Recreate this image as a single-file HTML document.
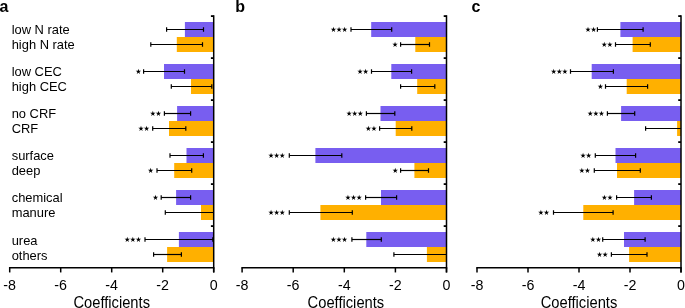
<!DOCTYPE html>
<html><head><meta charset="utf-8"><style>
html,body{margin:0;padding:0;background:#fff;}
svg{display:block;font-family:"Liberation Sans", sans-serif;}
svg{will-change:transform;}
</style></head><body>
<svg width="685" height="308" viewBox="0 0 685 308">
<rect width="685" height="308" fill="#fff"/>
<rect x="184.90" y="22.00" width="28.80" height="15.0" fill="#785EF0"/>
<rect x="176.80" y="37.00" width="36.90" height="15.0" fill="#FFB000"/>
<rect x="164.00" y="64.00" width="49.70" height="15.0" fill="#785EF0"/>
<rect x="191.00" y="79.00" width="22.70" height="15.0" fill="#FFB000"/>
<rect x="177.10" y="106.00" width="36.60" height="15.0" fill="#785EF0"/>
<rect x="169.00" y="121.00" width="44.70" height="15.0" fill="#FFB000"/>
<rect x="186.50" y="148.00" width="27.20" height="15.0" fill="#785EF0"/>
<rect x="174.20" y="163.00" width="39.50" height="15.0" fill="#FFB000"/>
<rect x="176.10" y="190.00" width="37.60" height="15.0" fill="#785EF0"/>
<rect x="201.00" y="205.00" width="12.70" height="15.0" fill="#FFB000"/>
<rect x="178.90" y="232.00" width="34.80" height="15.0" fill="#785EF0"/>
<rect x="167.10" y="247.00" width="46.60" height="15.0" fill="#FFB000"/>
<line x1="166.60" y1="29.50" x2="203.50" y2="29.50" stroke="#000" stroke-width="1.2"/>
<line x1="166.60" y1="27.25" x2="166.60" y2="31.75" stroke="#000" stroke-width="1.2"/>
<line x1="203.50" y1="27.25" x2="203.50" y2="31.75" stroke="#000" stroke-width="1.2"/>
<line x1="150.80" y1="44.50" x2="202.50" y2="44.50" stroke="#000" stroke-width="1.2"/>
<line x1="150.80" y1="42.25" x2="150.80" y2="46.75" stroke="#000" stroke-width="1.2"/>
<line x1="202.50" y1="42.25" x2="202.50" y2="46.75" stroke="#000" stroke-width="1.2"/>
<line x1="143.60" y1="71.50" x2="184.50" y2="71.50" stroke="#000" stroke-width="1.2"/>
<line x1="143.60" y1="69.25" x2="143.60" y2="73.75" stroke="#000" stroke-width="1.2"/>
<line x1="184.50" y1="69.25" x2="184.50" y2="73.75" stroke="#000" stroke-width="1.2"/>
<polygon points="138.40,68.75 139.02,70.75 141.11,70.72 139.40,71.92 140.08,73.91 138.40,72.65 136.72,73.91 137.40,71.92 135.69,70.72 137.78,70.75"/>
<line x1="171.30" y1="86.50" x2="211.80" y2="86.50" stroke="#000" stroke-width="1.2"/>
<line x1="171.30" y1="84.25" x2="171.30" y2="88.75" stroke="#000" stroke-width="1.2"/>
<line x1="211.80" y1="84.25" x2="211.80" y2="88.75" stroke="#000" stroke-width="1.2"/>
<line x1="164.40" y1="113.50" x2="190.60" y2="113.50" stroke="#000" stroke-width="1.2"/>
<line x1="164.40" y1="111.25" x2="164.40" y2="115.75" stroke="#000" stroke-width="1.2"/>
<line x1="190.60" y1="111.25" x2="190.60" y2="115.75" stroke="#000" stroke-width="1.2"/>
<polygon points="152.85,110.75 153.47,112.75 155.56,112.72 153.85,113.92 154.53,115.91 152.85,114.65 151.17,115.91 151.85,113.92 150.14,112.72 152.23,112.75"/>
<polygon points="158.45,110.75 159.07,112.75 161.16,112.72 159.45,113.92 160.13,115.91 158.45,114.65 156.77,115.91 157.45,113.92 155.74,112.72 157.83,112.75"/>
<line x1="152.70" y1="128.50" x2="185.80" y2="128.50" stroke="#000" stroke-width="1.2"/>
<line x1="152.70" y1="126.25" x2="152.70" y2="130.75" stroke="#000" stroke-width="1.2"/>
<line x1="185.80" y1="126.25" x2="185.80" y2="130.75" stroke="#000" stroke-width="1.2"/>
<polygon points="141.00,125.75 141.62,127.75 143.71,127.72 142.00,128.92 142.68,130.91 141.00,129.65 139.32,130.91 140.00,128.92 138.29,127.72 140.38,127.75"/>
<polygon points="146.60,125.75 147.22,127.75 149.31,127.72 147.60,128.92 148.28,130.91 146.60,129.65 144.92,130.91 145.60,128.92 143.89,127.72 145.98,127.75"/>
<line x1="170.00" y1="155.50" x2="203.40" y2="155.50" stroke="#000" stroke-width="1.2"/>
<line x1="170.00" y1="153.25" x2="170.00" y2="157.75" stroke="#000" stroke-width="1.2"/>
<line x1="203.40" y1="153.25" x2="203.40" y2="157.75" stroke="#000" stroke-width="1.2"/>
<line x1="157.00" y1="170.50" x2="191.70" y2="170.50" stroke="#000" stroke-width="1.2"/>
<line x1="157.00" y1="168.25" x2="157.00" y2="172.75" stroke="#000" stroke-width="1.2"/>
<line x1="191.70" y1="168.25" x2="191.70" y2="172.75" stroke="#000" stroke-width="1.2"/>
<polygon points="150.65,167.75 151.27,169.75 153.36,169.72 151.65,170.92 152.33,172.91 150.65,171.65 148.97,172.91 149.65,170.92 147.94,169.72 150.03,169.75"/>
<line x1="161.20" y1="197.50" x2="190.60" y2="197.50" stroke="#000" stroke-width="1.2"/>
<line x1="161.20" y1="195.25" x2="161.20" y2="199.75" stroke="#000" stroke-width="1.2"/>
<line x1="190.60" y1="195.25" x2="190.60" y2="199.75" stroke="#000" stroke-width="1.2"/>
<polygon points="155.50,194.75 156.12,196.75 158.21,196.72 156.50,197.92 157.18,199.91 155.50,198.65 153.82,199.91 154.50,197.92 152.79,196.72 154.88,196.75"/>
<line x1="165.30" y1="212.50" x2="213.70" y2="212.50" stroke="#000" stroke-width="1.2"/>
<line x1="165.30" y1="210.25" x2="165.30" y2="214.75" stroke="#000" stroke-width="1.2"/>
<line x1="145.00" y1="239.50" x2="212.80" y2="239.50" stroke="#000" stroke-width="1.2"/>
<line x1="145.00" y1="237.25" x2="145.00" y2="241.75" stroke="#000" stroke-width="1.2"/>
<line x1="212.80" y1="237.25" x2="212.80" y2="241.75" stroke="#000" stroke-width="1.2"/>
<polygon points="127.25,236.75 127.87,238.75 129.96,238.72 128.25,239.92 128.93,241.91 127.25,240.65 125.57,241.91 126.25,239.92 124.54,238.72 126.63,238.75"/>
<polygon points="132.85,236.75 133.47,238.75 135.56,238.72 133.85,239.92 134.53,241.91 132.85,240.65 131.17,241.91 131.85,239.92 130.14,238.72 132.23,238.75"/>
<polygon points="138.45,236.75 139.07,238.75 141.16,238.72 139.45,239.92 140.13,241.91 138.45,240.65 136.77,241.91 137.45,239.92 135.74,238.72 137.83,238.75"/>
<line x1="153.60" y1="254.50" x2="181.40" y2="254.50" stroke="#000" stroke-width="1.2"/>
<line x1="153.60" y1="252.25" x2="153.60" y2="256.75" stroke="#000" stroke-width="1.2"/>
<line x1="181.40" y1="252.25" x2="181.40" y2="256.75" stroke="#000" stroke-width="1.2"/>
<line x1="213.70" y1="15.20" x2="213.70" y2="272.45" stroke="#000" stroke-width="1.5"/>
<line x1="210.90" y1="16.10" x2="213.70" y2="16.10" stroke="#000" stroke-width="1.8"/>
<line x1="210.90" y1="58.10" x2="213.70" y2="58.10" stroke="#000" stroke-width="1.8"/>
<line x1="210.90" y1="100.10" x2="213.70" y2="100.10" stroke="#000" stroke-width="1.8"/>
<line x1="210.90" y1="142.10" x2="213.70" y2="142.10" stroke="#000" stroke-width="1.8"/>
<line x1="210.90" y1="184.10" x2="213.70" y2="184.10" stroke="#000" stroke-width="1.8"/>
<line x1="210.90" y1="226.10" x2="213.70" y2="226.10" stroke="#000" stroke-width="1.8"/>
<line x1="8.95" y1="267.85" x2="214.45" y2="267.85" stroke="#000" stroke-width="1.5"/>
<line x1="9.70" y1="267.85" x2="9.70" y2="272.45" stroke="#000" stroke-width="1.5"/>
<text transform="translate(9.70,290.35) scale(0.95,1.03)" font-size="15" text-anchor="middle">-8</text>
<line x1="60.70" y1="267.85" x2="60.70" y2="272.45" stroke="#000" stroke-width="1.5"/>
<text transform="translate(60.70,290.35) scale(0.95,1.03)" font-size="15" text-anchor="middle">-6</text>
<line x1="111.70" y1="267.85" x2="111.70" y2="272.45" stroke="#000" stroke-width="1.5"/>
<text transform="translate(111.70,290.35) scale(0.95,1.03)" font-size="15" text-anchor="middle">-4</text>
<line x1="162.70" y1="267.85" x2="162.70" y2="272.45" stroke="#000" stroke-width="1.5"/>
<text transform="translate(162.70,290.35) scale(0.95,1.03)" font-size="15" text-anchor="middle">-2</text>
<line x1="213.70" y1="267.85" x2="213.70" y2="272.45" stroke="#000" stroke-width="1.5"/>
<text transform="translate(213.70,290.35) scale(0.95,1.03)" font-size="15" text-anchor="middle">0</text>
<text transform="translate(111.70,308.1) scale(0.92,1)" font-size="16" text-anchor="middle">Coefficients</text>
<text x="-0.50" y="12.2" font-size="16" font-weight="bold">a</text>
<rect x="371.20" y="22.00" width="75.30" height="15.0" fill="#785EF0"/>
<rect x="415.30" y="37.00" width="31.20" height="15.0" fill="#FFB000"/>
<rect x="391.30" y="64.00" width="55.20" height="15.0" fill="#785EF0"/>
<rect x="417.20" y="79.00" width="29.30" height="15.0" fill="#FFB000"/>
<rect x="380.50" y="106.00" width="66.00" height="15.0" fill="#785EF0"/>
<rect x="395.70" y="121.00" width="50.80" height="15.0" fill="#FFB000"/>
<rect x="315.40" y="148.00" width="131.10" height="15.0" fill="#785EF0"/>
<rect x="414.40" y="163.00" width="32.10" height="15.0" fill="#FFB000"/>
<rect x="381.00" y="190.00" width="65.50" height="15.0" fill="#785EF0"/>
<rect x="320.40" y="205.00" width="126.10" height="15.0" fill="#FFB000"/>
<rect x="366.30" y="232.00" width="80.20" height="15.0" fill="#785EF0"/>
<rect x="426.90" y="247.00" width="19.60" height="15.0" fill="#FFB000"/>
<line x1="351.00" y1="29.50" x2="391.70" y2="29.50" stroke="#000" stroke-width="1.2"/>
<line x1="351.00" y1="27.25" x2="351.00" y2="31.75" stroke="#000" stroke-width="1.2"/>
<line x1="391.70" y1="27.25" x2="391.70" y2="31.75" stroke="#000" stroke-width="1.2"/>
<polygon points="333.45,26.75 334.07,28.75 336.16,28.72 334.45,29.92 335.13,31.91 333.45,30.65 331.77,31.91 332.45,29.92 330.74,28.72 332.83,28.75"/>
<polygon points="339.05,26.75 339.67,28.75 341.76,28.72 340.05,29.92 340.73,31.91 339.05,30.65 337.37,31.91 338.05,29.92 336.34,28.72 338.43,28.75"/>
<polygon points="344.65,26.75 345.27,28.75 347.36,28.72 345.65,29.92 346.33,31.91 344.65,30.65 342.97,31.91 343.65,29.92 341.94,28.72 344.03,28.75"/>
<line x1="400.60" y1="44.50" x2="429.50" y2="44.50" stroke="#000" stroke-width="1.2"/>
<line x1="400.60" y1="42.25" x2="400.60" y2="46.75" stroke="#000" stroke-width="1.2"/>
<line x1="429.50" y1="42.25" x2="429.50" y2="46.75" stroke="#000" stroke-width="1.2"/>
<polygon points="395.05,41.75 395.67,43.75 397.76,43.72 396.05,44.92 396.73,46.91 395.05,45.65 393.37,46.91 394.05,44.92 392.34,43.72 394.43,43.75"/>
<line x1="371.50" y1="71.50" x2="411.60" y2="71.50" stroke="#000" stroke-width="1.2"/>
<line x1="371.50" y1="69.25" x2="371.50" y2="73.75" stroke="#000" stroke-width="1.2"/>
<line x1="411.60" y1="69.25" x2="411.60" y2="73.75" stroke="#000" stroke-width="1.2"/>
<polygon points="360.05,68.75 360.67,70.75 362.76,70.72 361.05,71.92 361.73,73.91 360.05,72.65 358.37,73.91 359.05,71.92 357.34,70.72 359.43,70.75"/>
<polygon points="365.65,68.75 366.27,70.75 368.36,70.72 366.65,71.92 367.33,73.91 365.65,72.65 363.97,73.91 364.65,71.92 362.94,70.72 365.03,70.75"/>
<line x1="400.60" y1="86.50" x2="434.80" y2="86.50" stroke="#000" stroke-width="1.2"/>
<line x1="400.60" y1="84.25" x2="400.60" y2="88.75" stroke="#000" stroke-width="1.2"/>
<line x1="434.80" y1="84.25" x2="434.80" y2="88.75" stroke="#000" stroke-width="1.2"/>
<line x1="366.40" y1="113.50" x2="394.80" y2="113.50" stroke="#000" stroke-width="1.2"/>
<line x1="366.40" y1="111.25" x2="366.40" y2="115.75" stroke="#000" stroke-width="1.2"/>
<line x1="394.80" y1="111.25" x2="394.80" y2="115.75" stroke="#000" stroke-width="1.2"/>
<polygon points="349.10,110.75 349.72,112.75 351.81,112.72 350.10,113.92 350.78,115.91 349.10,114.65 347.42,115.91 348.10,113.92 346.39,112.72 348.48,112.75"/>
<polygon points="354.70,110.75 355.32,112.75 357.41,112.72 355.70,113.92 356.38,115.91 354.70,114.65 353.02,115.91 353.70,113.92 351.99,112.72 354.08,112.75"/>
<polygon points="360.30,110.75 360.92,112.75 363.01,112.72 361.30,113.92 361.98,115.91 360.30,114.65 358.62,115.91 359.30,113.92 357.59,112.72 359.68,112.75"/>
<line x1="379.60" y1="128.50" x2="411.80" y2="128.50" stroke="#000" stroke-width="1.2"/>
<line x1="379.60" y1="126.25" x2="379.60" y2="130.75" stroke="#000" stroke-width="1.2"/>
<line x1="411.80" y1="126.25" x2="411.80" y2="130.75" stroke="#000" stroke-width="1.2"/>
<polygon points="368.35,125.75 368.97,127.75 371.06,127.72 369.35,128.92 370.03,130.91 368.35,129.65 366.67,130.91 367.35,128.92 365.64,127.72 367.73,127.75"/>
<polygon points="373.95,125.75 374.57,127.75 376.66,127.72 374.95,128.92 375.63,130.91 373.95,129.65 372.27,130.91 372.95,128.92 371.24,127.72 373.33,127.75"/>
<line x1="289.30" y1="155.50" x2="341.80" y2="155.50" stroke="#000" stroke-width="1.2"/>
<line x1="289.30" y1="153.25" x2="289.30" y2="157.75" stroke="#000" stroke-width="1.2"/>
<line x1="341.80" y1="153.25" x2="341.80" y2="157.75" stroke="#000" stroke-width="1.2"/>
<polygon points="271.05,152.75 271.67,154.75 273.76,154.72 272.05,155.92 272.73,157.91 271.05,156.65 269.37,157.91 270.05,155.92 268.34,154.72 270.43,154.75"/>
<polygon points="276.65,152.75 277.27,154.75 279.36,154.72 277.65,155.92 278.33,157.91 276.65,156.65 274.97,157.91 275.65,155.92 273.94,154.72 276.03,154.75"/>
<polygon points="282.25,152.75 282.87,154.75 284.96,154.72 283.25,155.92 283.93,157.91 282.25,156.65 280.57,157.91 281.25,155.92 279.54,154.72 281.63,154.75"/>
<line x1="400.60" y1="170.50" x2="428.50" y2="170.50" stroke="#000" stroke-width="1.2"/>
<line x1="400.60" y1="168.25" x2="400.60" y2="172.75" stroke="#000" stroke-width="1.2"/>
<line x1="428.50" y1="168.25" x2="428.50" y2="172.75" stroke="#000" stroke-width="1.2"/>
<polygon points="395.25,167.75 395.87,169.75 397.96,169.72 396.25,170.92 396.93,172.91 395.25,171.65 393.57,172.91 394.25,170.92 392.54,169.72 394.63,169.75"/>
<line x1="365.60" y1="197.50" x2="396.60" y2="197.50" stroke="#000" stroke-width="1.2"/>
<line x1="365.60" y1="195.25" x2="365.60" y2="199.75" stroke="#000" stroke-width="1.2"/>
<line x1="396.60" y1="195.25" x2="396.60" y2="199.75" stroke="#000" stroke-width="1.2"/>
<polygon points="347.95,194.75 348.57,196.75 350.66,196.72 348.95,197.92 349.63,199.91 347.95,198.65 346.27,199.91 346.95,197.92 345.24,196.72 347.33,196.75"/>
<polygon points="353.55,194.75 354.17,196.75 356.26,196.72 354.55,197.92 355.23,199.91 353.55,198.65 351.87,199.91 352.55,197.92 350.84,196.72 352.93,196.75"/>
<polygon points="359.15,194.75 359.77,196.75 361.86,196.72 360.15,197.92 360.83,199.91 359.15,198.65 357.47,199.91 358.15,197.92 356.44,196.72 358.53,196.75"/>
<line x1="289.30" y1="212.50" x2="352.30" y2="212.50" stroke="#000" stroke-width="1.2"/>
<line x1="289.30" y1="210.25" x2="289.30" y2="214.75" stroke="#000" stroke-width="1.2"/>
<line x1="352.30" y1="210.25" x2="352.30" y2="214.75" stroke="#000" stroke-width="1.2"/>
<polygon points="271.05,209.75 271.67,211.75 273.76,211.72 272.05,212.92 272.73,214.91 271.05,213.65 269.37,214.91 270.05,212.92 268.34,211.72 270.43,211.75"/>
<polygon points="276.65,209.75 277.27,211.75 279.36,211.72 277.65,212.92 278.33,214.91 276.65,213.65 274.97,214.91 275.65,212.92 273.94,211.72 276.03,211.75"/>
<polygon points="282.25,209.75 282.87,211.75 284.96,211.72 283.25,212.92 283.93,214.91 282.25,213.65 280.57,214.91 281.25,212.92 279.54,211.72 281.63,211.75"/>
<line x1="351.90" y1="239.50" x2="381.30" y2="239.50" stroke="#000" stroke-width="1.2"/>
<line x1="351.90" y1="237.25" x2="351.90" y2="241.75" stroke="#000" stroke-width="1.2"/>
<line x1="381.30" y1="237.25" x2="381.30" y2="241.75" stroke="#000" stroke-width="1.2"/>
<polygon points="333.35,236.75 333.97,238.75 336.06,238.72 334.35,239.92 335.03,241.91 333.35,240.65 331.67,241.91 332.35,239.92 330.64,238.72 332.73,238.75"/>
<polygon points="338.95,236.75 339.57,238.75 341.66,238.72 339.95,239.92 340.63,241.91 338.95,240.65 337.27,241.91 337.95,239.92 336.24,238.72 338.33,238.75"/>
<polygon points="344.55,236.75 345.17,238.75 347.26,238.72 345.55,239.92 346.23,241.91 344.55,240.65 342.87,241.91 343.55,239.92 341.84,238.72 343.93,238.75"/>
<line x1="393.90" y1="254.50" x2="446.50" y2="254.50" stroke="#000" stroke-width="1.2"/>
<line x1="393.90" y1="252.25" x2="393.90" y2="256.75" stroke="#000" stroke-width="1.2"/>
<line x1="446.50" y1="15.20" x2="446.50" y2="272.45" stroke="#000" stroke-width="1.5"/>
<line x1="443.70" y1="16.10" x2="446.50" y2="16.10" stroke="#000" stroke-width="1.8"/>
<line x1="443.70" y1="58.10" x2="446.50" y2="58.10" stroke="#000" stroke-width="1.8"/>
<line x1="443.70" y1="100.10" x2="446.50" y2="100.10" stroke="#000" stroke-width="1.8"/>
<line x1="443.70" y1="142.10" x2="446.50" y2="142.10" stroke="#000" stroke-width="1.8"/>
<line x1="443.70" y1="184.10" x2="446.50" y2="184.10" stroke="#000" stroke-width="1.8"/>
<line x1="443.70" y1="226.10" x2="446.50" y2="226.10" stroke="#000" stroke-width="1.8"/>
<line x1="241.35" y1="267.85" x2="447.25" y2="267.85" stroke="#000" stroke-width="1.5"/>
<line x1="242.10" y1="267.85" x2="242.10" y2="272.45" stroke="#000" stroke-width="1.5"/>
<text transform="translate(242.10,290.35) scale(0.95,1.03)" font-size="15" text-anchor="middle">-8</text>
<line x1="293.20" y1="267.85" x2="293.20" y2="272.45" stroke="#000" stroke-width="1.5"/>
<text transform="translate(293.20,290.35) scale(0.95,1.03)" font-size="15" text-anchor="middle">-6</text>
<line x1="344.30" y1="267.85" x2="344.30" y2="272.45" stroke="#000" stroke-width="1.5"/>
<text transform="translate(344.30,290.35) scale(0.95,1.03)" font-size="15" text-anchor="middle">-4</text>
<line x1="395.40" y1="267.85" x2="395.40" y2="272.45" stroke="#000" stroke-width="1.5"/>
<text transform="translate(395.40,290.35) scale(0.95,1.03)" font-size="15" text-anchor="middle">-2</text>
<line x1="446.50" y1="267.85" x2="446.50" y2="272.45" stroke="#000" stroke-width="1.5"/>
<text transform="translate(446.50,290.35) scale(0.95,1.03)" font-size="15" text-anchor="middle">0</text>
<text transform="translate(345.90,308.1) scale(0.92,1)" font-size="16" text-anchor="middle">Coefficients</text>
<text x="235.30" y="12.2" font-size="16" font-weight="bold">b</text>
<rect x="620.40" y="22.00" width="60.60" height="15.0" fill="#785EF0"/>
<rect x="632.60" y="37.00" width="48.40" height="15.0" fill="#FFB000"/>
<rect x="591.70" y="64.00" width="89.30" height="15.0" fill="#785EF0"/>
<rect x="626.70" y="79.00" width="54.30" height="15.0" fill="#FFB000"/>
<rect x="621.10" y="106.00" width="59.90" height="15.0" fill="#785EF0"/>
<rect x="677.10" y="121.00" width="3.90" height="15.0" fill="#FFB000"/>
<rect x="615.50" y="148.00" width="65.50" height="15.0" fill="#785EF0"/>
<rect x="617.00" y="163.00" width="64.00" height="15.0" fill="#FFB000"/>
<rect x="634.10" y="190.00" width="46.90" height="15.0" fill="#785EF0"/>
<rect x="583.30" y="205.00" width="97.70" height="15.0" fill="#FFB000"/>
<rect x="624.00" y="232.00" width="57.00" height="15.0" fill="#785EF0"/>
<rect x="629.10" y="247.00" width="51.90" height="15.0" fill="#FFB000"/>
<line x1="597.40" y1="29.50" x2="643.10" y2="29.50" stroke="#000" stroke-width="1.2"/>
<line x1="597.40" y1="27.25" x2="597.40" y2="31.75" stroke="#000" stroke-width="1.2"/>
<line x1="643.10" y1="27.25" x2="643.10" y2="31.75" stroke="#000" stroke-width="1.2"/>
<polygon points="588.00,26.75 588.62,28.75 590.71,28.72 589.00,29.92 589.68,31.91 588.00,30.65 586.32,31.91 587.00,29.92 585.29,28.72 587.38,28.75"/>
<polygon points="593.60,26.75 594.22,28.75 596.31,28.72 594.60,29.92 595.28,31.91 593.60,30.65 591.92,31.91 592.60,29.92 590.89,28.72 592.98,28.75"/>
<line x1="615.50" y1="44.50" x2="650.30" y2="44.50" stroke="#000" stroke-width="1.2"/>
<line x1="615.50" y1="42.25" x2="615.50" y2="46.75" stroke="#000" stroke-width="1.2"/>
<line x1="650.30" y1="42.25" x2="650.30" y2="46.75" stroke="#000" stroke-width="1.2"/>
<polygon points="604.25,41.75 604.87,43.75 606.96,43.72 605.25,44.92 605.93,46.91 604.25,45.65 602.57,46.91 603.25,44.92 601.54,43.72 603.63,43.75"/>
<polygon points="609.85,41.75 610.47,43.75 612.56,43.72 610.85,44.92 611.53,46.91 609.85,45.65 608.17,46.91 608.85,44.92 607.14,43.72 609.23,43.75"/>
<line x1="570.50" y1="71.50" x2="613.40" y2="71.50" stroke="#000" stroke-width="1.2"/>
<line x1="570.50" y1="69.25" x2="570.50" y2="73.75" stroke="#000" stroke-width="1.2"/>
<line x1="613.40" y1="69.25" x2="613.40" y2="73.75" stroke="#000" stroke-width="1.2"/>
<polygon points="553.70,68.75 554.32,70.75 556.41,70.72 554.70,71.92 555.38,73.91 553.70,72.65 552.02,73.91 552.70,71.92 550.99,70.72 553.08,70.75"/>
<polygon points="559.30,68.75 559.92,70.75 562.01,70.72 560.30,71.92 560.98,73.91 559.30,72.65 557.62,73.91 558.30,71.92 556.59,70.72 558.68,70.75"/>
<polygon points="564.90,68.75 565.52,70.75 567.61,70.72 565.90,71.92 566.58,73.91 564.90,72.65 563.22,73.91 563.90,71.92 562.19,70.72 564.28,70.75"/>
<line x1="605.50" y1="86.50" x2="647.60" y2="86.50" stroke="#000" stroke-width="1.2"/>
<line x1="605.50" y1="84.25" x2="605.50" y2="88.75" stroke="#000" stroke-width="1.2"/>
<line x1="647.60" y1="84.25" x2="647.60" y2="88.75" stroke="#000" stroke-width="1.2"/>
<polygon points="600.40,83.75 601.02,85.75 603.11,85.72 601.40,86.92 602.08,88.91 600.40,87.65 598.72,88.91 599.40,86.92 597.69,85.72 599.78,85.75"/>
<line x1="607.40" y1="113.50" x2="634.70" y2="113.50" stroke="#000" stroke-width="1.2"/>
<line x1="607.40" y1="111.25" x2="607.40" y2="115.75" stroke="#000" stroke-width="1.2"/>
<line x1="634.70" y1="111.25" x2="634.70" y2="115.75" stroke="#000" stroke-width="1.2"/>
<polygon points="590.25,110.75 590.87,112.75 592.96,112.72 591.25,113.92 591.93,115.91 590.25,114.65 588.57,115.91 589.25,113.92 587.54,112.72 589.63,112.75"/>
<polygon points="595.85,110.75 596.47,112.75 598.56,112.72 596.85,113.92 597.53,115.91 595.85,114.65 594.17,115.91 594.85,113.92 593.14,112.72 595.23,112.75"/>
<polygon points="601.45,110.75 602.07,112.75 604.16,112.72 602.45,113.92 603.13,115.91 601.45,114.65 599.77,115.91 600.45,113.92 598.74,112.72 600.83,112.75"/>
<line x1="645.60" y1="128.50" x2="681.00" y2="128.50" stroke="#000" stroke-width="1.2"/>
<line x1="645.60" y1="126.25" x2="645.60" y2="130.75" stroke="#000" stroke-width="1.2"/>
<line x1="595.30" y1="155.50" x2="635.60" y2="155.50" stroke="#000" stroke-width="1.2"/>
<line x1="595.30" y1="153.25" x2="595.30" y2="157.75" stroke="#000" stroke-width="1.2"/>
<line x1="635.60" y1="153.25" x2="635.60" y2="157.75" stroke="#000" stroke-width="1.2"/>
<polygon points="583.05,152.75 583.67,154.75 585.76,154.72 584.05,155.92 584.73,157.91 583.05,156.65 581.37,157.91 582.05,155.92 580.34,154.72 582.43,154.75"/>
<polygon points="588.65,152.75 589.27,154.75 591.36,154.72 589.65,155.92 590.33,157.91 588.65,156.65 586.97,157.91 587.65,155.92 585.94,154.72 588.03,154.75"/>
<line x1="594.30" y1="170.50" x2="640.30" y2="170.50" stroke="#000" stroke-width="1.2"/>
<line x1="594.30" y1="168.25" x2="594.30" y2="172.75" stroke="#000" stroke-width="1.2"/>
<line x1="640.30" y1="168.25" x2="640.30" y2="172.75" stroke="#000" stroke-width="1.2"/>
<polygon points="581.85,167.75 582.47,169.75 584.56,169.72 582.85,170.92 583.53,172.91 581.85,171.65 580.17,172.91 580.85,170.92 579.14,169.72 581.23,169.75"/>
<polygon points="587.45,167.75 588.07,169.75 590.16,169.72 588.45,170.92 589.13,172.91 587.45,171.65 585.77,172.91 586.45,170.92 584.74,169.72 586.83,169.75"/>
<line x1="616.60" y1="197.50" x2="651.40" y2="197.50" stroke="#000" stroke-width="1.2"/>
<line x1="616.60" y1="195.25" x2="616.60" y2="199.75" stroke="#000" stroke-width="1.2"/>
<line x1="651.40" y1="195.25" x2="651.40" y2="199.75" stroke="#000" stroke-width="1.2"/>
<polygon points="604.40,194.75 605.02,196.75 607.11,196.72 605.40,197.92 606.08,199.91 604.40,198.65 602.72,199.91 603.40,197.92 601.69,196.72 603.78,196.75"/>
<polygon points="610.00,194.75 610.62,196.75 612.71,196.72 611.00,197.92 611.68,199.91 610.00,198.65 608.32,199.91 609.00,197.92 607.29,196.72 609.38,196.75"/>
<line x1="553.50" y1="212.50" x2="613.10" y2="212.50" stroke="#000" stroke-width="1.2"/>
<line x1="553.50" y1="210.25" x2="553.50" y2="214.75" stroke="#000" stroke-width="1.2"/>
<line x1="613.10" y1="210.25" x2="613.10" y2="214.75" stroke="#000" stroke-width="1.2"/>
<polygon points="540.90,209.75 541.52,211.75 543.61,211.72 541.90,212.92 542.58,214.91 540.90,213.65 539.22,214.91 539.90,212.92 538.19,211.72 540.28,211.75"/>
<polygon points="546.50,209.75 547.12,211.75 549.21,211.72 547.50,212.92 548.18,214.91 546.50,213.65 544.82,214.91 545.50,212.92 543.79,211.72 545.88,211.75"/>
<line x1="602.70" y1="239.50" x2="645.10" y2="239.50" stroke="#000" stroke-width="1.2"/>
<line x1="602.70" y1="237.25" x2="602.70" y2="241.75" stroke="#000" stroke-width="1.2"/>
<line x1="645.10" y1="237.25" x2="645.10" y2="241.75" stroke="#000" stroke-width="1.2"/>
<polygon points="592.85,236.75 593.47,238.75 595.56,238.72 593.85,239.92 594.53,241.91 592.85,240.65 591.17,241.91 591.85,239.92 590.14,238.72 592.23,238.75"/>
<polygon points="598.45,236.75 599.07,238.75 601.16,238.72 599.45,239.92 600.13,241.91 598.45,240.65 596.77,241.91 597.45,239.92 595.74,238.72 597.83,238.75"/>
<line x1="611.40" y1="254.50" x2="647.00" y2="254.50" stroke="#000" stroke-width="1.2"/>
<line x1="611.40" y1="252.25" x2="611.40" y2="256.75" stroke="#000" stroke-width="1.2"/>
<line x1="647.00" y1="252.25" x2="647.00" y2="256.75" stroke="#000" stroke-width="1.2"/>
<polygon points="599.55,251.75 600.17,253.75 602.26,253.72 600.55,254.92 601.23,256.91 599.55,255.65 597.87,256.91 598.55,254.92 596.84,253.72 598.93,253.75"/>
<polygon points="605.15,251.75 605.77,253.75 607.86,253.72 606.15,254.92 606.83,256.91 605.15,255.65 603.47,256.91 604.15,254.92 602.44,253.72 604.53,253.75"/>
<line x1="681.00" y1="15.20" x2="681.00" y2="272.45" stroke="#000" stroke-width="1.5"/>
<line x1="678.20" y1="16.10" x2="681.00" y2="16.10" stroke="#000" stroke-width="1.8"/>
<line x1="678.20" y1="58.10" x2="681.00" y2="58.10" stroke="#000" stroke-width="1.8"/>
<line x1="678.20" y1="100.10" x2="681.00" y2="100.10" stroke="#000" stroke-width="1.8"/>
<line x1="678.20" y1="142.10" x2="681.00" y2="142.10" stroke="#000" stroke-width="1.8"/>
<line x1="678.20" y1="184.10" x2="681.00" y2="184.10" stroke="#000" stroke-width="1.8"/>
<line x1="678.20" y1="226.10" x2="681.00" y2="226.10" stroke="#000" stroke-width="1.8"/>
<line x1="476.25" y1="267.85" x2="681.75" y2="267.85" stroke="#000" stroke-width="1.5"/>
<line x1="477.00" y1="267.85" x2="477.00" y2="272.45" stroke="#000" stroke-width="1.5"/>
<text transform="translate(477.00,290.35) scale(0.95,1.03)" font-size="15" text-anchor="middle">-8</text>
<line x1="528.00" y1="267.85" x2="528.00" y2="272.45" stroke="#000" stroke-width="1.5"/>
<text transform="translate(528.00,290.35) scale(0.95,1.03)" font-size="15" text-anchor="middle">-6</text>
<line x1="579.00" y1="267.85" x2="579.00" y2="272.45" stroke="#000" stroke-width="1.5"/>
<text transform="translate(579.00,290.35) scale(0.95,1.03)" font-size="15" text-anchor="middle">-4</text>
<line x1="630.00" y1="267.85" x2="630.00" y2="272.45" stroke="#000" stroke-width="1.5"/>
<text transform="translate(630.00,290.35) scale(0.95,1.03)" font-size="15" text-anchor="middle">-2</text>
<line x1="681.00" y1="267.85" x2="681.00" y2="272.45" stroke="#000" stroke-width="1.5"/>
<text transform="translate(681.00,290.35) scale(0.95,1.03)" font-size="15" text-anchor="middle">0</text>
<text transform="translate(579.00,308.1) scale(0.92,1)" font-size="16" text-anchor="middle">Coefficients</text>
<text x="471.50" y="12.2" font-size="16" font-weight="bold">c</text>
<text x="11.7" y="33.80" font-size="12.9">low N rate</text>
<text x="11.7" y="48.80" font-size="12.9">high N rate</text>
<text x="11.7" y="75.95" font-size="12.9">low CEC</text>
<text x="11.7" y="90.95" font-size="12.9">high CEC</text>
<text x="11.7" y="118.10" font-size="12.9">no CRF</text>
<text x="11.7" y="133.10" font-size="12.9">CRF</text>
<text x="11.7" y="160.25" font-size="12.9">surface</text>
<text x="11.7" y="175.25" font-size="12.9">deep</text>
<text x="11.7" y="202.40" font-size="12.9">chemical</text>
<text x="11.7" y="217.40" font-size="12.9">manure</text>
<text x="11.7" y="244.55" font-size="12.9">urea</text>
<text x="11.7" y="259.55" font-size="12.9">others</text>
</svg>
</body></html>
